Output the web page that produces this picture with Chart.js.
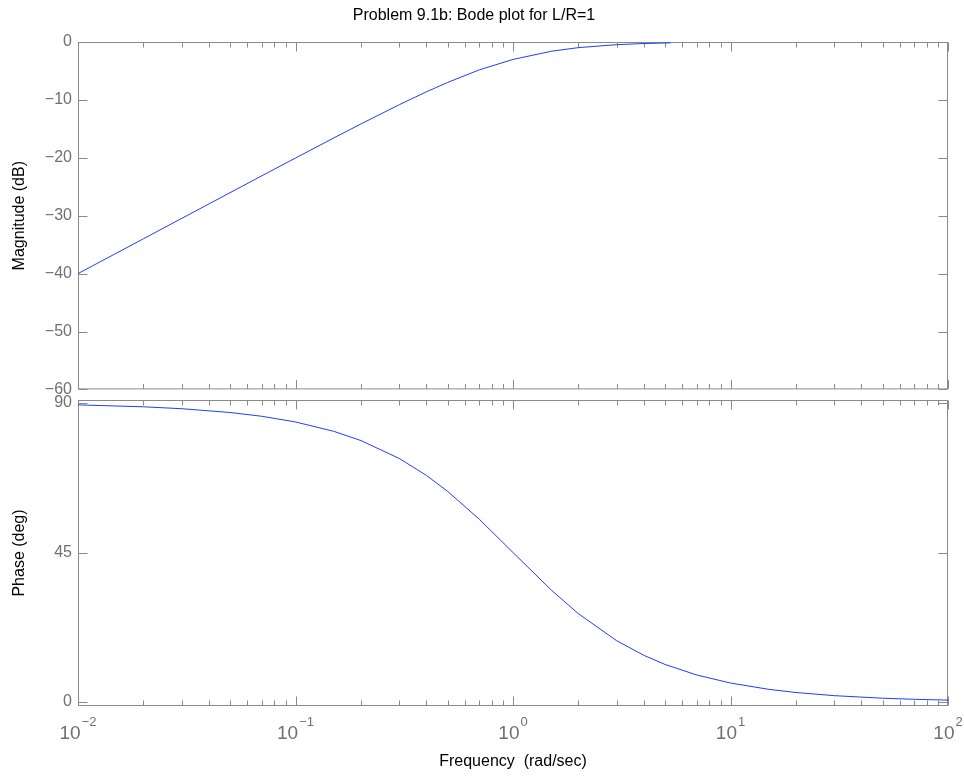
<!DOCTYPE html>
<html>
<head>
<meta charset="utf-8">
<script src="https://cdn.jsdelivr.net/npm/chart.js@4"></script>
<style>
  body { margin: 0; background: #fff; width: 964px; height: 777px; position: relative; overflow: hidden; }
  canvas { position: absolute; left: 0; }
  #magCanvas { top: 0; }
  #phaseCanvas { top: 380px; }
</style>
</head>
<body>
<canvas id="magCanvas" width="964" height="405"></canvas>
<canvas id="phaseCanvas" width="964" height="397"></canvas>
<script>
// values
const magFreq = [0.01, 0.02, 0.03, 0.05, 0.07, 0.1, 0.15, 0.2, 0.3, 0.4, 0.5, 0.7, 1, 1.5, 2, 3, 4, 5.3];
const magDb = [-40, -33.98, -30.46, -26.03, -23.11, -20.04, -16.57, -14.15, -10.83, -8.6, -6.99, -4.81, -3.01, -1.6, -0.97, -0.46, -0.26, -0.15];

const phaseFreq = [0.01, 0.02, 0.03, 0.05, 0.07, 0.1, 0.15, 0.2, 0.3, 0.4, 0.5, 0.7, 1, 1.5, 2, 3, 4, 5, 7, 10, 15, 20, 30, 50, 70, 100];
const phaseDeg = [89.43, 88.85, 88.28, 87.14, 86.0, 84.29, 81.47, 78.69, 73.3, 68.2, 63.43, 55.01, 45, 33.69, 26.57, 18.43, 14.04, 11.31, 8.13, 5.71, 3.81, 2.86, 1.91, 1.15, 0.82, 0.57];

const magTicks = [-60, -50, -40, -30, -20, -10, 0];
const phaseTicks = [0, 45, 90];
const decades = [-2, -1, 0, 1, 2];

const lineColor = "#1f3dff";
const axisColor = "#8a8a8a";
const labelColor = "#707070";
const FONT = "'Liberation Sans', Arial, Helvetica, sans-serif";

Chart.defaults.font.family = FONT;

function minus(s) {
  return String(s).replace("-", "\u2212");
}

// box with inward tick marks on all four sides, drawn under the curve
const framePlugin = {
  id: "frame",
  beforeDatasetsDraw(chart) {
    const { ctx, chartArea: a, scales } = chart;
    const x = scales.x, y = scales.y;
    const L = a.left + 0.5, R = a.right - 0.5, T = a.top + 0.5, B = a.bottom - 0.5;
    ctx.save();
    ctx.strokeStyle = axisColor;
    ctx.lineWidth = 1;
    ctx.strokeRect(L, T, R - L, B - T);
    ctx.beginPath();
    decades.forEach((d) => {
      for (let m = 1; m <= 9; m++) {
        const v = m * Math.pow(10, d);
        if (v > x.max + 1e-9) break;
        const px = Math.round(x.getPixelForValue(v)) + 0.5;
        const len = m === 1 ? 9 : 5;
        ctx.moveTo(px, B); ctx.lineTo(px, B - len);
        ctx.moveTo(px, T); ctx.lineTo(px, T + len);
      }
    });
    y.ticks.forEach((t) => {
      const py = Math.round(y.getPixelForValue(t.value)) + 0.5;
      ctx.moveTo(L, py); ctx.lineTo(L + 9, py);
      ctx.moveTo(R, py); ctx.lineTo(R - 9, py);
    });
    ctx.stroke();
    ctx.restore();
  },
};

// 10^k labels under the lower panel
const decadeLabels = {
  id: "decadeLabels",
  afterDraw(chart) {
    const { ctx, chartArea: a, scales } = chart;
    const x = scales.x;
    ctx.save();
    ctx.fillStyle = labelColor;
    ctx.textBaseline = "alphabetic";
    ctx.textAlign = "left";
    decades.forEach((d) => {
      const px = x.getPixelForValue(Math.pow(10, d));
      ctx.font = "19px " + FONT;
      const wb = ctx.measureText("10").width;
      ctx.font = "13px " + FONT;
      const sup = minus(d);
      const ws = ctx.measureText(sup).width;
      const start = px - (wb + ws + 1) / 2;
      ctx.font = "19px " + FONT;
      ctx.fillText("10", start, a.bottom + 33);
      ctx.font = "13px " + FONT;
      ctx.fillText(sup, start + wb + 1, a.bottom + 20);
    });
    ctx.restore();
  },
};

function yAxis(min, max, tickList, title) {
  return {
    min: min,
    max: max,
    afterBuildTicks: (scale) => { scale.ticks = tickList.map((v) => ({ value: v })); },
    afterFit: (scale) => { scale.width = 78; },
    grid: { display: false, drawTicks: false },
    border: { display: false },
    ticks: {
      color: labelColor,
      font: { size: 16 },
      padding: 6,
      callback: (v) => minus(v),
    },
    title: {
      display: true,
      text: title,
      color: "#000",
      font: { size: 16 },
      padding: { top: 10, bottom: 0 },
    },
  };
}

function series(xs, ys) {
  return xs.map((f, i) => ({ x: f, y: ys[i] }));
}

const magChart = new Chart(document.getElementById("magCanvas"), {
  type: "line",
  data: {
    datasets: [{
      data: series(magFreq, magDb),
      borderColor: lineColor,
      borderWidth: 1,
      pointRadius: 0,
      tension: 0,
      fill: false,
    }],
  },
  options: {
    responsive: false,
    animation: false,
    devicePixelRatio: 1,
    // the -60 label already reserves ~16px under the plot area
    layout: { padding: { left: 0, right: 16, top: 0, bottom: 0 } },
    plugins: {
      legend: { display: false },
      tooltip: { enabled: false },
      title: {
        display: true,
        text: "Problem 9.1b: Bode plot for L/R=1",
        color: "#000",
        font: { size: 16, weight: "normal" },
        padding: { top: 6, bottom: 16.8 },
      },
    },
    scales: {
      x: { type: "logarithmic", min: 0.01, max: 100, display: false },
      y: yAxis(-60, 0, magTicks, "Magnitude (dB)"),
    },
  },
  plugins: [framePlugin],
});

const phaseChart = new Chart(document.getElementById("phaseCanvas"), {
  type: "line",
  data: {
    datasets: [{
      data: series(phaseFreq, phaseDeg),
      borderColor: lineColor,
      borderWidth: 1,
      pointRadius: 0,
      tension: 0,
      fill: false,
    }],
  },
  options: {
    responsive: false,
    animation: false,
    devicePixelRatio: 1,
    layout: { padding: { left: 0, right: 16, top: 20, bottom: 0 } },
    plugins: {
      legend: { display: false },
      tooltip: { enabled: false },
    },
    scales: {
      x: {
        type: "logarithmic",
        min: 0.01,
        max: 100,
        afterFit: (scale) => { scale.height = 71; },
        grid: { display: false, drawTicks: false },
        border: { display: false },
        ticks: { display: false },
        title: {
          display: true,
          text: "Frequency  (rad/sec)",
          color: "#000",
          font: { size: 16 },
          padding: { top: 0, bottom: 5.4 },
        },
      },
      y: yAxis(-1.2, 90.9, phaseTicks, "Phase (deg)"),
    },
  },
  plugins: [framePlugin, decadeLabels],
});
</script>
</body>
</html>
